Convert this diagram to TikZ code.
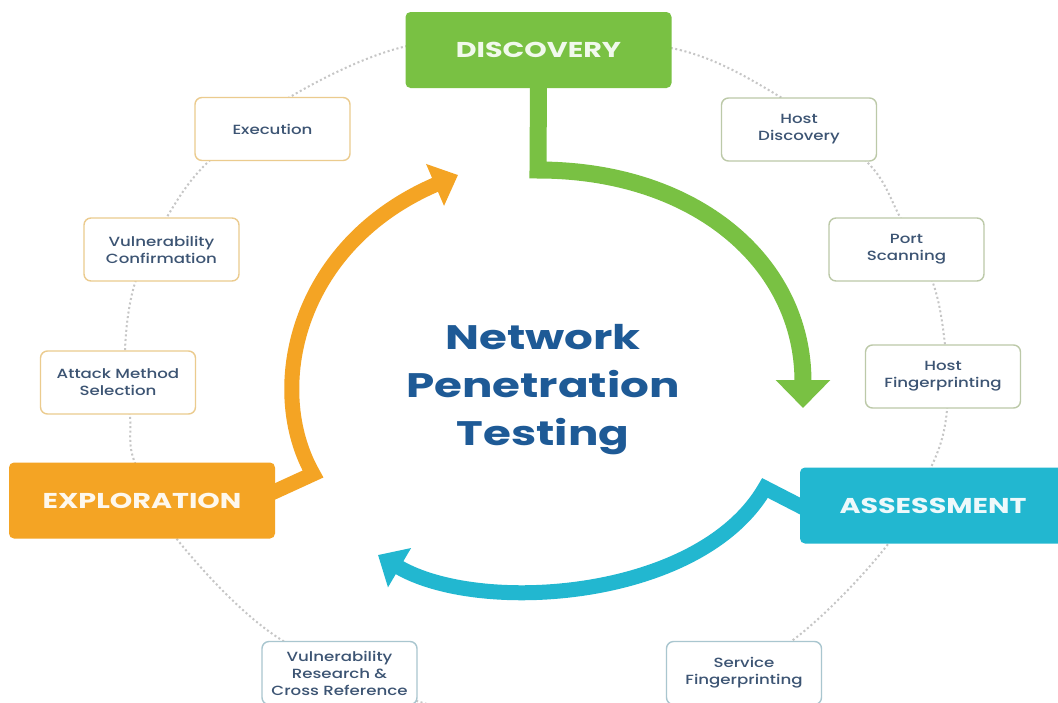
\documentclass[tikz,border=0pt]{standalone}
\usepackage{fontspec}
\setmainfont{Poppins}
\newfontfamily\bigf{Poppins}[FakeStretch=1.33]
\newfontfamily\smallf{Poppins}[FakeStretch=1.25, UprightFont=* Medium]
\usetikzlibrary{arrows.meta}
\pgfdeclarelayer{bg}
\pgfsetlayers{bg,main}
\definecolor{gbox}{HTML}{79C143}
\definecolor{obox}{HTML}{F4A424}
\definecolor{bbox}{HTML}{22B7D0}
\definecolor{titleblue}{HTML}{1E5A96}
\definecolor{txtblue}{HTML}{3C5473}
\definecolor{lborder}{HTML}{EBCB8E}
\definecolor{rborder}{HTML}{BCC9A8}
\definecolor{bborder}{HTML}{A9C6CF}
\definecolor{dotgray}{HTML}{C6C6C6}
\begin{document}
\begin{tikzpicture}[x=1pt,y=-1pt,
  phase/.style={rounded corners=5pt, inner sep=0pt, minimum width=266pt, minimum height=76pt,
    font=\bigf\bfseries\fontsize{21.5}{24}\selectfont},
  stepbox/.style={draw=#1, line width=1.4pt, fill=white, rounded corners=7pt,
    minimum width=155pt, minimum height=63pt, inner sep=0pt, align=center, text=txtblue,
    font=\smallf\fontsize{13.3}{17}\selectfont},
  titletext/.style={align=center, text=titleblue, font=\bigf\bfseries\fontsize{34}{48}\selectfont},
  flow/.style={line width=#1, line join=miter, line cap=butt},
  dotline/.style={draw=dotgray, line width=2pt, dash pattern=on 2pt off 2.6pt}
]
\useasboundingbox (0,0) rectangle (1058,702);
\clip (0,0) rectangle (1058,702);

% phase boxes
\node[phase, fill=gbox, text=white!90!gbox] (disc) at (538.5,50) {DISCOVERY};
\node[phase, fill=obox, text=white!92!obox] (expl) at (142,500.5) {EXPLORATION};
\node[phase, fill=bbox, text=white!92!bbox, minimum width=266pt] (assess) at (933,505.5) {ASSESSMENT};

% step boxes
\node[stepbox=lborder] (exec) at (272.5,129) {Execution};
\node[stepbox=lborder] (vconf) at (161.5,249.5) {Vulnerability\\Confirmation};
\node[stepbox=lborder] (attack) at (118,382.5) {Attack Method\\Selection};
\node[stepbox=bborder] (vres) at (339.5,673) {Vulnerability\\Research \&\\Cross Reference};
\node[stepbox=rborder] (hdisc) at (799,129.5) {Host\\Discovery};
\node[stepbox=rborder] (port) at (906.5,249.5) {Port\\Scanning};
\node[stepbox=rborder] (hfing) at (943,376.5) {Host\\Fingerprinting};
\node[stepbox=bborder] (sfing) at (744,673) {Service\\Fingerprinting};

% title
\node[titletext] (title) at (543,390) {Network\\Penetration\\Testing};

% arrow way points
\coordinate (gbend) at (538,170);
\coordinate (gtip) at (803,408);
\coordinate (obend) at (313,474);
\coordinate (otip) at (458,175);
\coordinate (bpeak) at (765,488);
\coordinate (btip) at (378,555);

\begin{pgfonlayer}{bg}
  \fill[white] (0,0) rectangle (1058,702);
  \draw[dotline] plot[smooth cycle, tension=0.55] coordinates {(538,36) (680,50) (777,95) (867,162) (900,217) (933,283) (945,345) (947,410) (933,463) (885,548) (793,640) (680,702) (540,716) (420,702) (277,637) (180,543) (135,463) (130,417) (125,350) (135,283) (167,217) (207,163) (290,97) (403,47)};
  \draw[flow=17pt, draw=gbox, -{Triangle[width=53pt,length=28pt]}]
    ([yshift=6pt]disc.south) -- (gbend) .. controls (695,170) and (803,262) .. (gtip);
  \draw[flow=15pt, draw=obox, -{Triangle[width=44pt,length=25pt]}]
    ([xshift=-8pt,yshift=-3pt]expl.east |- 0,492) -- (obend) .. controls (265,390) and (295,245) .. (otip);
  \draw[flow=15pt, draw=bbox, -{Triangle[width=44pt,length=25pt]}]
    ([xshift=8pt]assess.west |- 0,510) -- (bpeak) .. controls (700,600) and (480,615) .. (btip);
\end{pgfonlayer}
\end{tikzpicture}
\end{document}
